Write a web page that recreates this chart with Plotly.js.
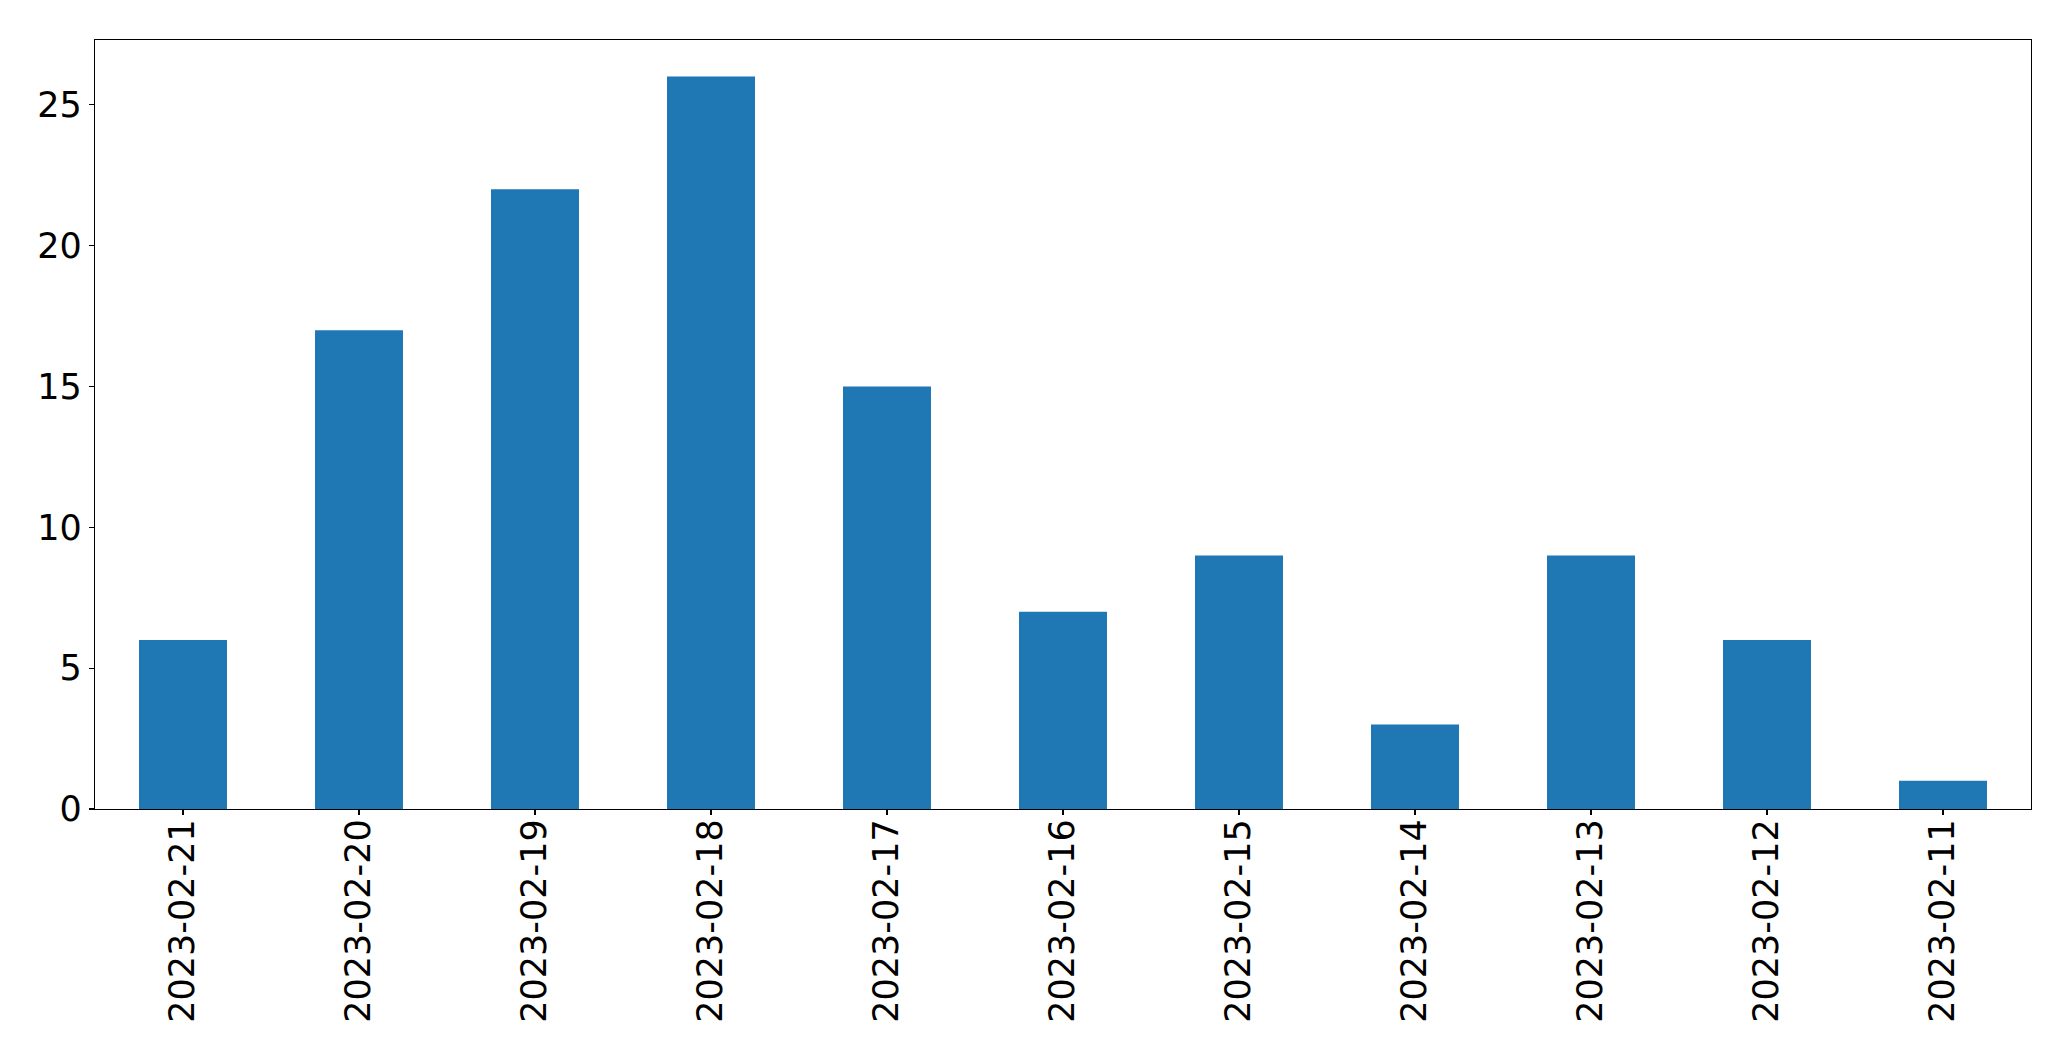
<!DOCTYPE html>
<html>
<head>
<meta charset="utf-8">
<script src="https://cdn.plot.ly/plotly-3.0.1.min.js"></script>
<style>html,body{margin:0;padding:0;background:#fff;}#chart{width:2071px;height:1061px;}</style>
</head>
<body>
<div id="chart"></div>
<script>
const categories = ["2023-02-21","2023-02-20","2023-02-19","2023-02-18","2023-02-17","2023-02-16","2023-02-15","2023-02-14","2023-02-13","2023-02-12","2023-02-11"];
const counts = [6, 17, 22, 26, 15, 7, 9, 3, 9, 6, 1];
const yTicks = [0, 5, 10, 15, 20, 25];

const trace = {
  type: 'bar',
  x: categories,
  y: counts,
  marker: {color: '#1f77b4', line: {width: 0}},
  hoverinfo: 'x+y'
};

const axisFont = {family: 'DejaVu Sans', size: 35, color: '#000'};

const layout = {
  width: 2071,
  height: 1061,
  margin: {l: 94.5, r: 39.5, t: 39.5, b: 252, pad: 0},
  paper_bgcolor: '#fff',
  plot_bgcolor: '#fff',
  bargap: 0.5,
  showlegend: false,
  xaxis: {
    type: 'category',
    range: [-0.5, 10.5],
    tickangle: -90,
    tickfont: axisFont,
    ticks: 'outside',
    ticklen: 5,
    tickwidth: 1.3,
    tickcolor: '#000',
    ticklabelstandoff: -10,
    showline: true,
    linecolor: '#000',
    linewidth: 1.3,
    mirror: true,
    showgrid: false,
    zeroline: false,
    automargin: false
  },
  yaxis: {
    range: [0, 27.3],
    tickvals: yTicks,
    ticktext: yTicks.map(String),
    tickfont: axisFont,
    ticks: 'outside',
    ticklen: 5,
    tickwidth: 1.3,
    tickcolor: '#000',
    showline: true,
    linecolor: '#000',
    linewidth: 1.3,
    mirror: true,
    showgrid: false,
    zeroline: false,
    automargin: false
  }
};

Plotly.newPlot('chart', [trace], layout, {displayModeBar: false, staticPlot: true});
</script>
</body>
</html>
